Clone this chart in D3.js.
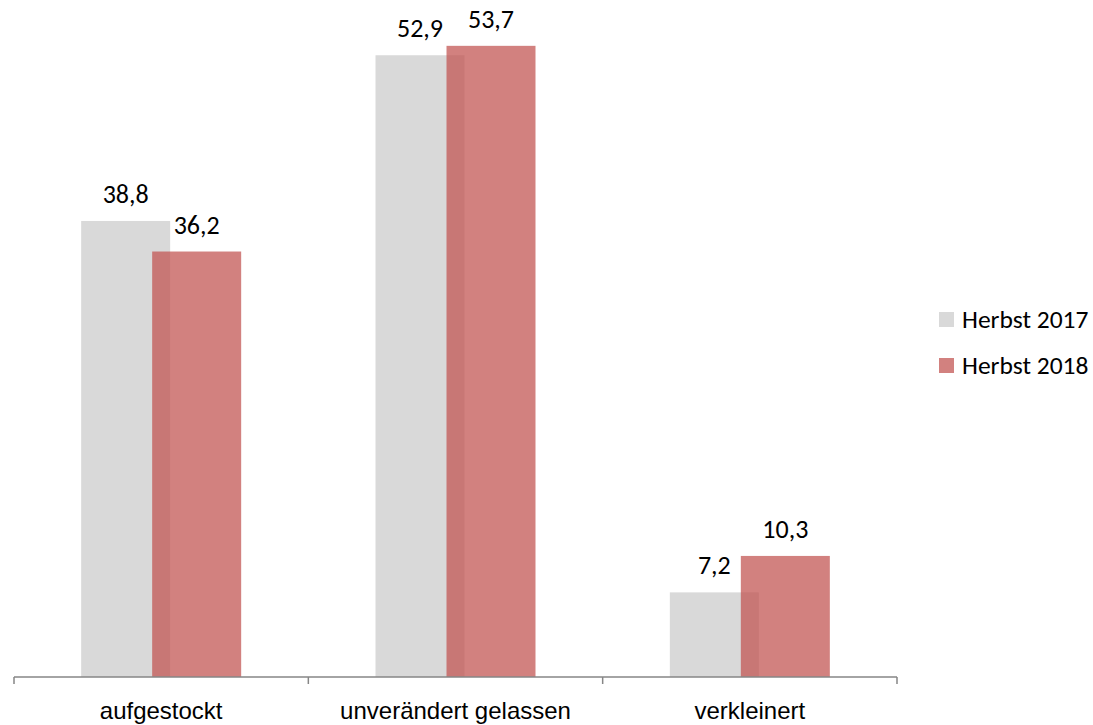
<!DOCTYPE html>
<html lang="de">
<head>
<meta charset="UTF-8">
<title>Herbst 2017 / Herbst 2018</title>
<script src="https://d3js.org/d3.v7.min.js"></script>
<style>
    body { margin: 0; padding: 0; background: #fff; overflow: hidden; }
    svg { font-family: Calibri, Carlito, "Open Sans", "Noto Sans", sans-serif; }
    .label { font-size: 26px; fill: #000; }
    .axis-text { font-size: 24px; fill: #000; }
    .legend-text { font-size: 25.5px; fill: #000; }
</style>
</head>
<body>
<div id="chart"></div>
<script>
    // Daten
    const categories = ["aufgestockt", "unverändert gelassen", "verkleinert"];
    const series = ["Herbst 2017", "Herbst 2018"];
    const values2017 = [38.8, 52.9, 7.2];
    const values2018 = [36.2, 53.7, 10.3];
    const colors = ["#d9d9d9", "#c0504d"];
    const opacities = [1, 0.72];

    const width = 1093, height = 725;
    const axisY = 677;

    const svg = d3.select("#chart").append("svg")
        .attr("width", width)
        .attr("height", height);

    const x = d3.scaleBand().domain(categories).range([14, 897]).padding(0);
    const xs = d3.scalePoint().domain(series).range([-35.5, 35.5]);
    const y = d3.scaleLinear().domain([0, 57.6]).range([axisY, 0]);
    const barW = 89;

    const rows = [values2017, values2018];

    series.forEach((s, si) => {
        const g = svg.append("g");
        g.selectAll("rect")
            .data(categories.map((c, i) => ({ c, v: rows[si][i] })))
            .enter().append("rect")
            .attr("x", d => x(d.c) + x.bandwidth() / 2 + xs(s) - barW / 2)
            .attr("y", d => y(d.v))
            .attr("width", barW)
            .attr("height", d => axisY - y(d.v))
            .attr("fill", colors[si])
            .attr("fill-opacity", opacities[si]);
    });

    // Werte
    series.forEach((s, si) => {
        svg.append("g").selectAll("text")
            .data(categories.map((c, i) => ({ c, v: rows[si][i] })))
            .enter().append("text")
            .attr("class", "label")
            .attr("text-anchor", "middle")
            .attr("x", d => x(d.c) + x.bandwidth() / 2 + xs(s))
            .attr("y", d => y(d.v) - 18)
            .text(d => d3.format(".1f")(d.v).replace(".", ","));
    });

    // X-Achse
    const axis = svg.append("g")
        .attr("transform", `translate(0,${axisY})`)
        .call(d3.axisBottom(x).tickSize(0).tickPadding(42));
    axis.select(".domain").attr("stroke", "#868686").attr("stroke-width", 1.5)
        .attr("d", "M14,0H897");
    axis.selectAll("text").attr("class", "axis-text").attr("dy", null)
        .attr("font-size", null).attr("font-family", null);
    const bounds = [...categories.map(c => x(c)), x.range()[1]];
    axis.selectAll(".bound").data(bounds).enter().append("line")
        .attr("x1", d => d).attr("x2", d => d)
        .attr("y1", 0).attr("y2", 7)
        .attr("stroke", "#868686").attr("stroke-width", 1.5);

    // Legende
    const legend = svg.append("g").attr("transform", "translate(939,312)");
    series.forEach((s, i) => {
        const item = legend.append("g").attr("transform", `translate(0,${i * 46})`);
        item.append("rect").attr("width", 15).attr("height", 15)
            .attr("fill", colors[i]).attr("fill-opacity", opacities[i]);
        item.append("text").attr("class", "legend-text")
            .attr("x", 23).attr("y", 15.5).text(s);
    });
</script>
</body>
</html>
